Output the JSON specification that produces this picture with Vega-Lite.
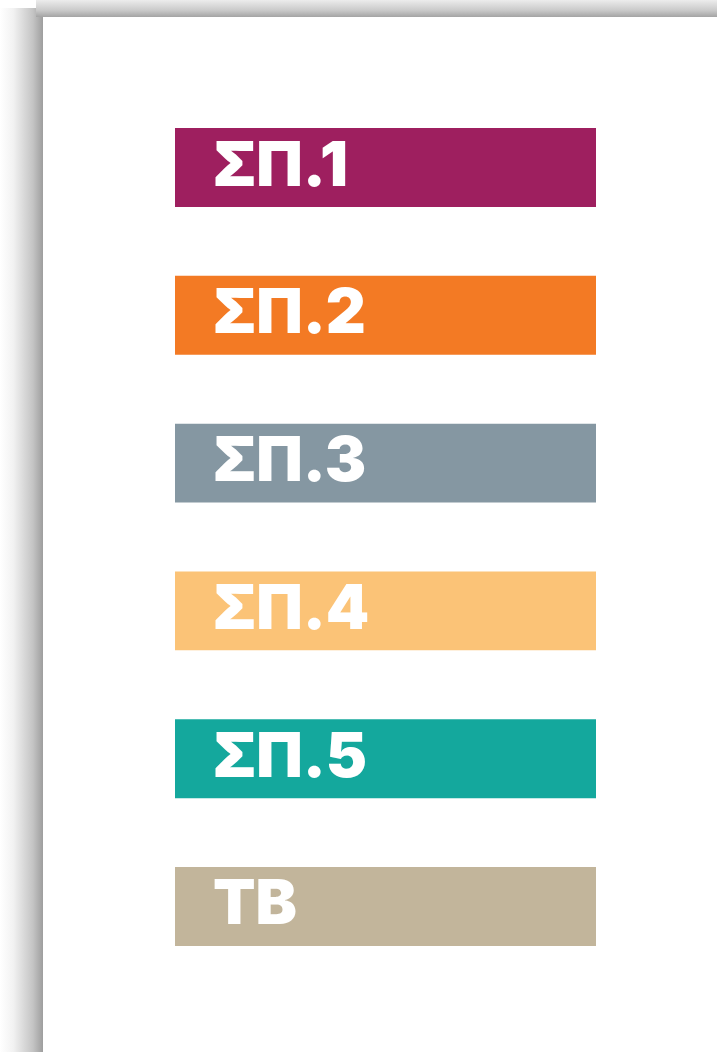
{
  "$schema": "https://vega.github.io/schema/vega-lite/v6.json",
  "width": 717,
  "height": 1052,
  "autosize": {"type": "fit", "contains": "padding"},
  "padding": 0,
  "background": "#ffffff",
  "config": {"view": {"stroke": null}, "axis": {"disable": true}},
  "datasets": {
    "bars": [
      {"label": "ΣΠ.1"},
      {"label": "ΣΠ.2"},
      {"label": "ΣΠ.3"},
      {"label": "ΣΠ.4"},
      {"label": "ΣΠ.5"},
      {"label": "ΤΒ"}
    ]
  },
  "layer": [
    {
      "data": {"values": [{}]},
      "layer": [
        {
          "mark": {"type": "rect", "color": {"gradient": "linear", "x1": 0, "y1": 0, "x2": 1, "y2": 0, "stops": [{"offset": 0, "color": "#ffffff"}, {"offset": 0.3, "color": "#f2f2f2"}, {"offset": 0.75, "color": "#c4c4c4"}, {"offset": 1, "color": "#9a9a9a"}]}},
          "encoding": {
            "x": {"datum": 0, "type": "quantitative", "scale": {"domain": [0, 717], "nice": false, "zero": false}},
            "x2": {"datum": 44},
            "y": {"datum": 8, "type": "quantitative", "scale": {"domain": [0, 1052], "nice": false, "zero": false, "reverse": true}},
            "y2": {"datum": 1052}
          }
        },
        {
          "mark": {"type": "rect", "color": {"gradient": "linear", "x1": 0, "y1": 0, "x2": 0, "y2": 1, "stops": [{"offset": 0, "color": "#ececec"}, {"offset": 0.6, "color": "#cacaca"}, {"offset": 1, "color": "#a4a4a4"}]}},
          "encoding": {
            "x": {"datum": 36, "type": "quantitative"},
            "x2": {"datum": 717},
            "y": {"datum": 0, "type": "quantitative"},
            "y2": {"datum": 17}
          }
        },
        {
          "mark": {"type": "rect", "color": "#ffffff"},
          "encoding": {
            "x": {"datum": 43, "type": "quantitative"},
            "x2": {"datum": 717},
            "y": {"datum": 17, "type": "quantitative"},
            "y2": {"datum": 1052}
          }
        }
      ]
    },
    {
      "data": {"name": "bars"},
      "layer": [
        {
          "mark": {"type": "bar"},
          "encoding": {
            "x": {"datum": 175, "type": "quantitative"},
            "x2": {"datum": 596},
            "y": {"field": "label", "type": "nominal", "sort": null, "scale": {"paddingInner": 0.466, "paddingOuter": 0.792, "align": 0.547}},
            "color": {"field": "label", "type": "nominal", "sort": null, "legend": null,
              "scale": {"domain": ["ΣΠ.1", "ΣΠ.2", "ΣΠ.3", "ΣΠ.4", "ΣΠ.5", "ΤΒ"], "range": ["#9e1f5f", "#f37a24", "#8597a2", "#fbc377", "#14a89d", "#c2b59b"]}}
          }
        },
        {
          "mark": {"type": "text", "align": "left", "baseline": "alphabetic", "dy": 18, "font": "Inter", "fontWeight": 900, "fontSize": 62, "color": "#ffffff"},
          "encoding": {
            "x": {"datum": 213, "type": "quantitative"},
            "y": {"field": "label", "type": "nominal", "sort": null},
            "text": {"field": "label"}
          }
        }
      ]
    }
  ],
  "resolve": {"scale": {"y": "independent"}}
}
